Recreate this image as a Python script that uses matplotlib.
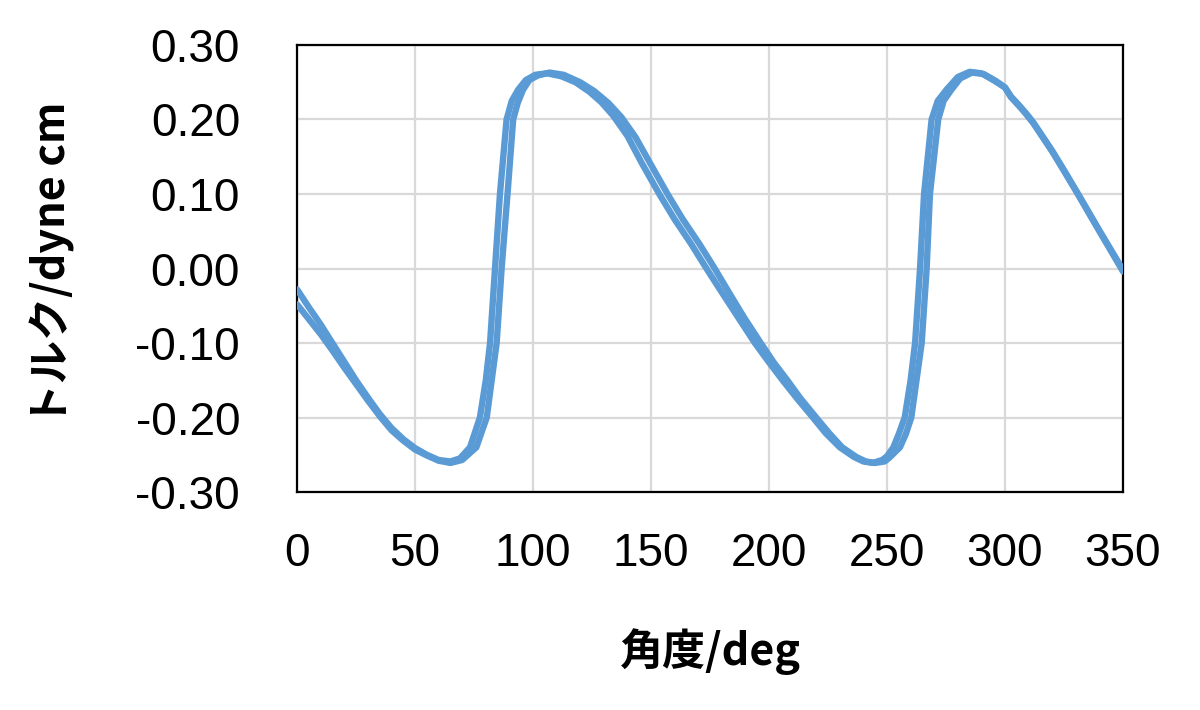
import matplotlib
matplotlib.use("Agg")
import matplotlib.pyplot as plt
from matplotlib.ticker import MultipleLocator, FormatStrFormatter

# ---- data (angle in deg, torque in dyne cm) ----
angle_a = [0, 5, 10, 15, 20, 25, 30, 35, 40, 45, 50, 55, 60, 65, 69, 73.3, 77.5, 80, 81.8,
           83.9, 86, 88.8, 91, 93.7, 97, 101, 106, 112, 118, 124, 129, 134, 140, 146,
           153.5, 160, 167, 173.5, 180, 187, 194, 200, 206, 212, 218.6, 224, 230, 236, 240,
           244, 248, 250, 252.7, 255, 257.5, 260, 261.9, 264, 265.7, 268.9, 271.5, 275.2,
           280, 285, 290, 295, 300, 302.5, 306, 309, 312, 316, 320, 325, 331, 340, 350]
torque_a = [-0.028, -0.052, -0.075, -0.100, -0.125, -0.150, -0.173, -0.195, -0.214, -0.229,
            -0.241, -0.250, -0.257, -0.259, -0.255, -0.240, -0.200, -0.150, -0.100,
            0.000, 0.100, 0.200, 0.225, 0.240, 0.253, 0.260, 0.262, 0.258, 0.250, 0.237,
            0.223, 0.205, 0.178, 0.142, 0.100, 0.066, 0.033, 0.000, -0.032, -0.066,
            -0.100, -0.126, -0.151, -0.175, -0.200, -0.221, -0.240, -0.253, -0.259,
            -0.261, -0.257, -0.252, -0.240, -0.222, -0.200, -0.150, -0.100, 0.000,
            0.100, 0.200, 0.225, 0.240, 0.257, 0.264, 0.262, 0.253, 0.243, 0.231,
            0.219, 0.208, 0.196, 0.177, 0.158, 0.132, 0.100, 0.051, -0.002]

angle_b = [0, 5, 10, 15, 20, 25, 30, 35, 40, 45, 50, 55, 60, 65, 70, 76, 80.4, 82.5, 84.6,
           86.7, 89.2, 91.6, 93.5, 95.8, 98.5, 102, 107, 113, 120, 126, 132, 137.5, 143.5,
           149.5, 157, 163.5, 170.5, 177, 183, 189.5, 196.5, 202, 208, 213.5, 220, 225.5,
           231, 237, 241, 245, 249, 251, 255.5, 258, 260.3, 262.5, 264.7, 266.8, 268.2,
           271.7, 274, 277.3, 281, 286, 291, 296, 300, 302.5, 306, 309, 312, 316, 320,
           325, 331, 340, 350]
torque_b = [-0.048, -0.068, -0.088, -0.110, -0.133, -0.155, -0.177, -0.198, -0.217, -0.231,
            -0.243, -0.251, -0.258, -0.261, -0.257, -0.240, -0.200, -0.150, -0.100,
            0.000, 0.100, 0.200, 0.222, 0.240, 0.253, 0.259, 0.263, 0.260, 0.250, 0.238,
            0.222, 0.203, 0.176, 0.142, 0.100, 0.066, 0.033, 0.000, -0.032, -0.066,
            -0.100, -0.126, -0.151, -0.175, -0.200, -0.221, -0.240, -0.253, -0.259,
            -0.261, -0.259, -0.254, -0.240, -0.222, -0.200, -0.150, -0.100, 0.000,
            0.100, 0.200, 0.225, 0.240, 0.255, 0.263, 0.261, 0.252, 0.243, 0.230,
            0.218, 0.207, 0.195, 0.176, 0.157, 0.131, 0.099, 0.050, -0.004]

x_label = "角度/deg"
y_label = "トルク/dyne cm"

LINE = "#5B9BD5"
GRID = "#D9D9D9"

fig = plt.figure(figsize=(12, 7.1), dpi=100)
ax = fig.add_axes([297 / 1200, 218 / 710, 826 / 1200, 447 / 710])

for xs, ys in ((angle_a, torque_a), (angle_b, torque_b)):
    ax.plot(xs, ys, color=LINE, lw=4.6, solid_joinstyle="round",
            solid_capstyle="round", zorder=3, clip_on=True)

ax.set_xlim(0, 350)
ax.set_ylim(-0.30, 0.30)
ax.xaxis.set_major_locator(MultipleLocator(50))
ax.yaxis.set_major_locator(MultipleLocator(0.10))
ax.yaxis.set_major_formatter(FormatStrFormatter("%.2f"))
ax.grid(True, color=GRID, lw=1.6, zorder=0)
ax.set_axisbelow(True)
for s in ax.spines.values():
    s.set_color("black")
    s.set_linewidth(1.6)

tick_family = ["Liberation Sans", "DejaVu Sans"]
ax.tick_params(axis="both", length=0)
ax.tick_params(axis="x", pad=29)
ax.tick_params(axis="y", pad=41)
for lab in ax.get_xticklabels() + ax.get_yticklabels():
    lab.set_fontfamily(tick_family)
    lab.set_fontsize(33)

label_font = dict(family=["Noto Sans CJK JP", "DejaVu Sans"], fontsize=31, fontweight="bold")
ax.set_xlabel(x_label, va="center", **label_font)
ax.xaxis.set_label_coords(0.5, (492 - 652) / 447)
ax.set_ylabel(y_label, va="center", **label_font)
ax.yaxis.set_label_coords((52 - 297) / 826, (492 - 264) / 447)

fig.savefig("out.png", dpi=100, facecolor="white")
